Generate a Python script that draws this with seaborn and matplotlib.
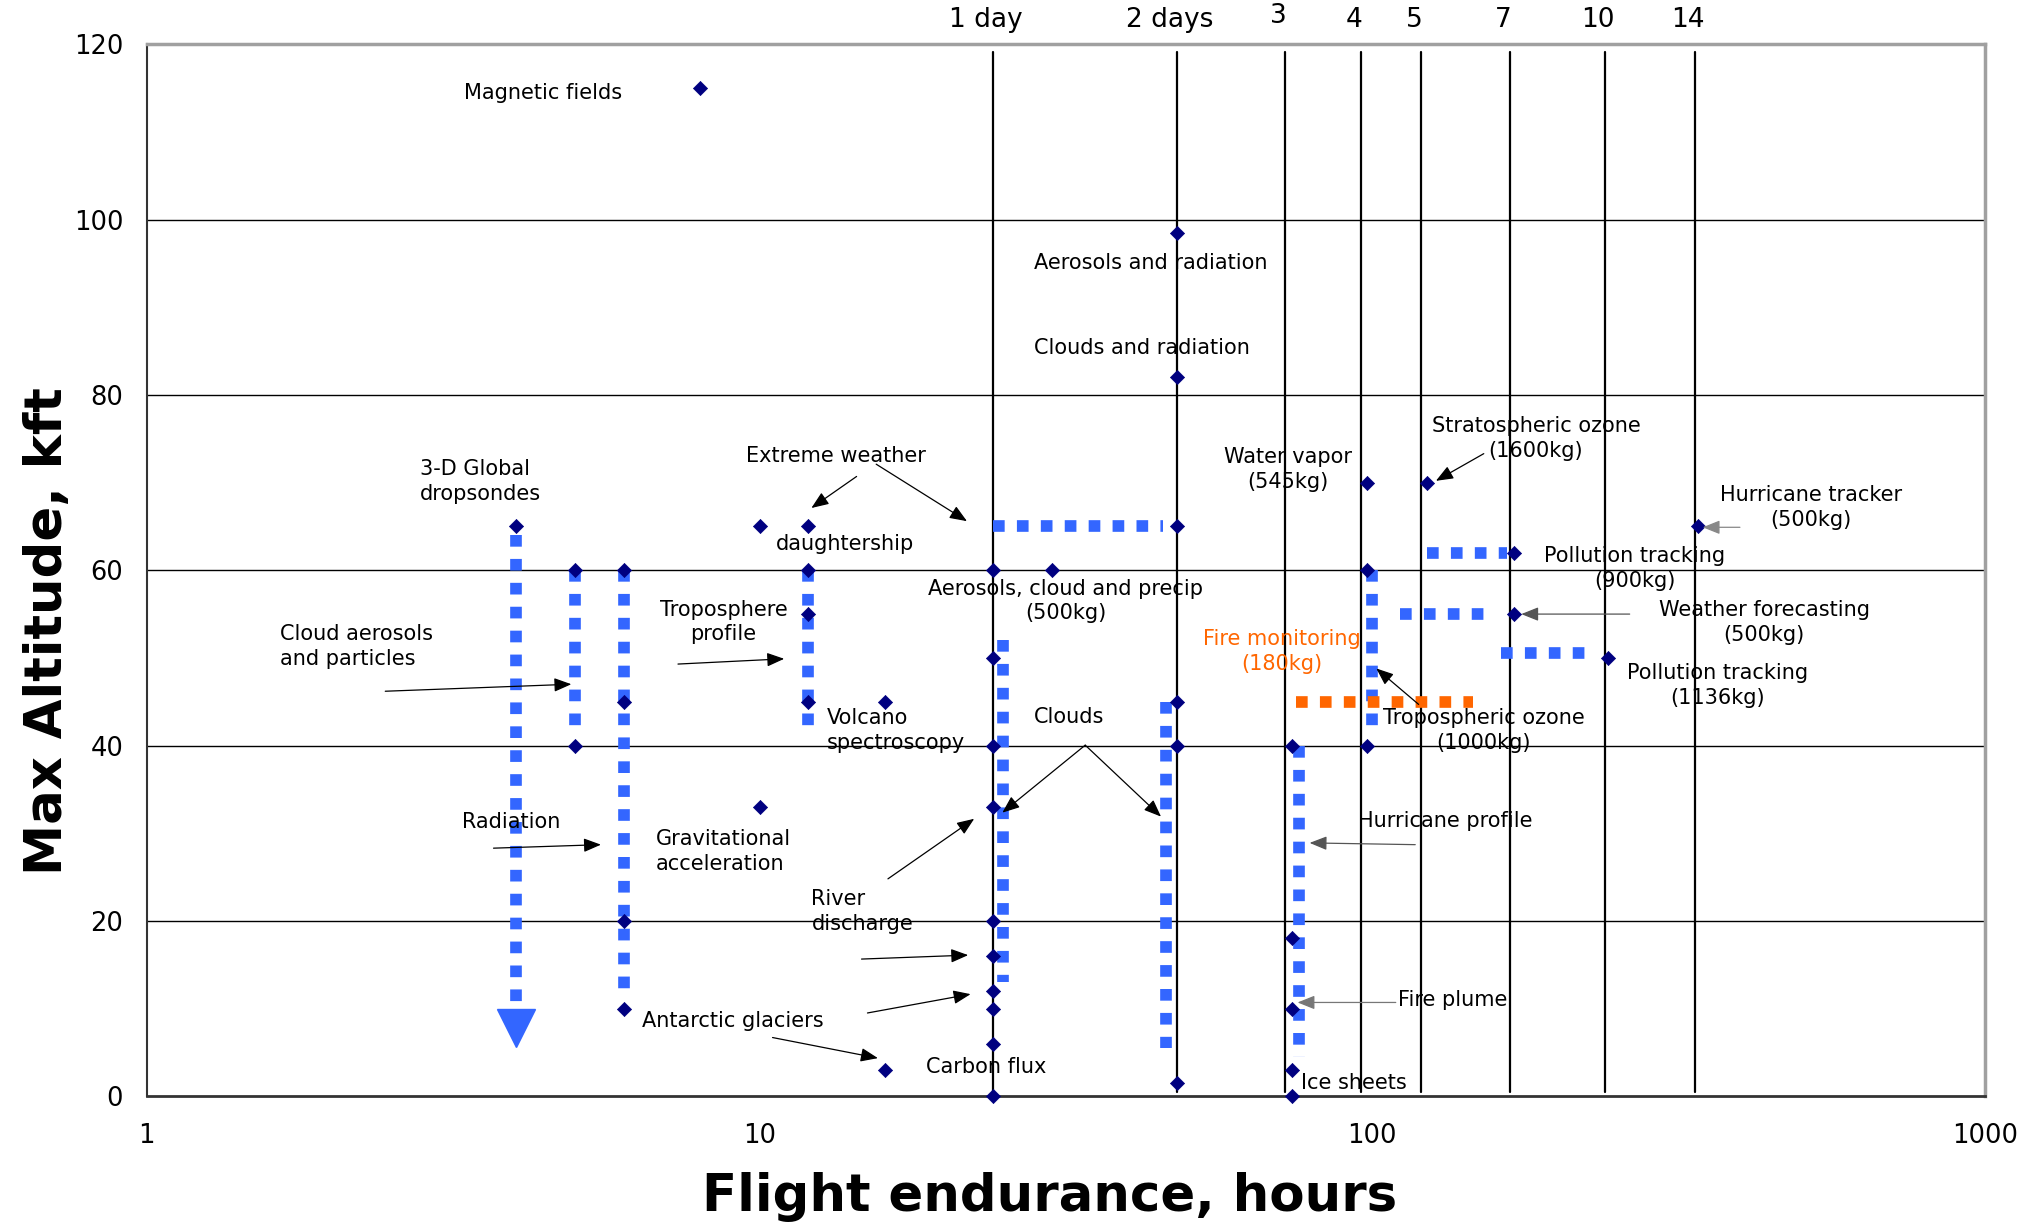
import matplotlib
matplotlib.use("Agg")
import matplotlib.pyplot as plt
import matplotlib.transforms as mtransforms
from matplotlib.ticker import FixedLocator, FixedFormatter, NullLocator
import seaborn as sns

# Instrument requirement points: flight endurance (hours) vs max altitude (kft)
point_hours = [8, 4, 5, 5, 6, 6, 6, 6, 10, 12, 12, 12, 12, 10, 16, 16,
               24, 24, 24, 24, 24, 24, 24, 24, 24, 24, 30,
               48, 48, 48, 48, 48, 48,
               74, 74, 74, 74, 74,
               98, 98, 98, 123, 170, 170, 242, 340]
point_kft = [115, 65, 60, 40, 60, 45, 20, 10, 65, 65, 60, 55, 45, 33, 45, 3,
             60, 50, 40, 33, 20, 16, 12, 10, 6, 0, 60,
             98.5, 82, 65, 45, 40, 1.5,
             40, 18, 10, 3, 0,
             70, 60, 40, 70, 62, 55, 50, 65]

# Altitude ranges covered by a mission (vertical blue bands)
vrange_hours = [4, 5, 6, 12, 25, 46, 76, 100]
vrange_top = [64, 60, 60, 60, 52, 45, 40, 60]
vrange_bottom = [10, 41, 12, 41, 13, 5.5, 4.5, 41]

# Endurance ranges covered by a mission (horizontal blue bands)
hrange_kft = [65, 62, 55, 50.6]
hrange_start = [24, 123, 111, 162]
hrange_end = [45.5, 166, 152, 222]

# Fire monitoring endurance range
fire_kft = [45, 45]
fire_hours = [75, 146]

# Dropsonde descent arrow tip
tip_hours = [4]
tip_kft = [7.8]

# Endurance reference lines
day_hours = [24, 48, 72, 96, 120, 168, 240, 336]
day_labels = ["1 day", "2 days", "3", "4", "5", "7", "10", "14"]

# Axis ticks
x_ticks = [1, 10, 100, 1000]
x_tick_labels = ["1", "10", "100", "1000"]
y_ticks = [0, 20, 40, 60, 80, 100, 120]

# Mission labels: text, x, y, horizontal alignment, colour
labels = [
    ("Magnetic fields", 3.29, 114.4, "left", "black"),
    ("3-D Global\ndropsondes", 2.79, 70.1, "left", "black"),
    ("Cloud aerosols\nand particles", 1.65, 51.3, "left", "black"),
    ("Radiation", 3.27, 31.3, "left", "black"),
    ("Troposphere\nprofile", 8.73, 54.1, "center", "black"),
    ("Extreme weather", 9.52, 73.0, "left", "black"),
    ("daughtership", 10.65, 63.0, "left", "black"),
    ("Volcano\nspectroscopy", 12.89, 41.7, "left", "black"),
    ("Gravitational\nacceleration", 6.77, 27.9, "left", "black"),
    ("Antarctic glaciers", 6.42, 8.6, "left", "black"),
    ("River\ndischarge", 12.15, 21.1, "left", "black"),
    ("Carbon flux", 18.67, 3.3, "left", "black"),
    ("Aerosols and radiation", 28.0, 95.0, "left", "black"),
    ("Clouds and radiation", 28.0, 85.3, "left", "black"),
    ("Aerosols, cloud and precip\n(500kg)", 31.6, 56.5, "center", "black"),
    ("Clouds", 28.0, 43.3, "left", "black"),
    ("Water vapor\n(545kg)", 72.8, 71.5, "center", "black"),
    ("Stratospheric ozone\n(1600kg)", 185, 75.0, "center", "black"),
    ("Hurricane tracker\n(500kg)", 520, 67.2, "center", "black"),
    ("Pollution tracking\n(900kg)", 268, 60.2, "center", "black"),
    ("Weather forecasting\n(500kg)", 436, 54.0, "center", "black"),
    ("Pollution tracking\n(1136kg)", 366, 46.9, "center", "black"),
    ("Fire monitoring\n(180kg)", 71.1, 50.7, "center", "#FF6600"),
    ("Tropospheric ozone\n(1000kg)", 152, 41.7, "center", "black"),
    ("Hurricane profile", 94.8, 31.4, "left", "black"),
    ("Fire plume", 110.3, 11.0, "left", "black"),
    ("Ice sheets", 76.5, 1.5, "left", "black"),
]

# Pointer arrows: tail (x, y) -> head (x, y), line colour
pointers = [
    ((2.45, 46.2), (4.93, 47.0), "black"),
    ((3.68, 28.3), (5.51, 28.7), "black"),
    ((7.36, 49.3), (10.97, 49.9), "black"),
    ((14.4, 70.7), (12.15, 67.1), "black"),
    ((15.5, 72.1), (21.8, 65.6), "black"),
    ((10.5, 6.7), (15.6, 4.35), "black"),
    ((16.2, 24.8), (22.4, 31.65), "black"),
    ((14.67, 15.65), (21.9, 16.1), "black"),
    ((15.0, 9.5), (22.1, 11.65), "black"),
    ((34.0, 40.05), (24.9, 32.35), "black"),
    ((34.0, 40.05), (45.2, 31.9), "black"),
    ((152, 73.3), (127, 70.2), "black"),
    ((398, 64.9), (346, 64.9), "#888888"),
    ((263, 55.0), (175, 55.0), "#555555"),
    ((119, 44.7), (101.5, 48.8), "black"),
    ((117.5, 28.7), (79, 28.9), "#555555"),
    ((109.2, 10.7), (75.5, 10.7), "#777777"),
]

BLUE = "#3366FF"
NAVY = "#000080"
ORANGE = "#FF6600"

sns.set_theme(style="white")
plt.rcParams["font.family"] = ["DejaVu Sans"]

fig = plt.figure(figsize=(20.36, 12.29), dpi=100)
ax = fig.add_axes([0.0721, 0.108, 0.9029, 0.856])

ax.set_xscale("log")
ax.set_xlim(1, 1000)
ax.set_ylim(0, 120)

# Horizontal grid
for y in y_ticks[1:-1]:
    ax.axhline(y, color="black", lw=1.0, zorder=1)

# Day reference lines and their labels above the plot
lbl_tr = mtransforms.blended_transform_factory(ax.transData, ax.transAxes)
for h, lab in zip(day_hours, day_labels):
    ax.axvline(h, ymin=0.004, ymax=0.993, color="black", lw=1.6, zorder=2)
    dy = 20 if lab == "3" else 17.5
    ax.annotate(lab, xy=(h, 1.0), xycoords=lbl_tr, xytext=(-5, dy),
                textcoords="offset points", ha="center", va="center",
                fontsize=19, color="black", annotation_clip=False)

dash = (0, (1.0, 1.05))
# Vertical altitude bands
for h, top, bot in zip(vrange_hours, vrange_top, vrange_bottom):
    ax.plot([h, h], [top, bot], color=BLUE, lw=8.4, linestyle=dash,
            dash_capstyle="butt", zorder=3)
# Horizontal endurance bands
for k, s, e in zip(hrange_kft, hrange_start, hrange_end):
    ax.plot([s, e], [k, k], color=BLUE, lw=8.4, linestyle=dash,
            dash_capstyle="butt", zorder=3)
ax.plot(fire_hours, fire_kft, color=ORANGE, lw=8.4, linestyle=dash,
        dash_capstyle="butt", zorder=3)

# Dropsonde arrow head
ax.plot(tip_hours, tip_kft, marker="v", markersize=27, color=BLUE,
        markeredgecolor=BLUE, linestyle="none", zorder=3)

# Requirement points
sns.scatterplot(x=point_hours, y=point_kft, marker="D", s=52, color=NAVY,
                edgecolor=NAVY, linewidth=0.5, ax=ax, zorder=5, clip_on=False,
                legend=False)

# Labels
for text, x, y, ha, col in labels:
    ax.text(x, y, text, ha=ha, va="center", multialignment=ha,
            fontsize=15, color=col, linespacing=1.3, zorder=6)

# Pointer arrows
for tail, head, col in pointers:
    ax.annotate("", xy=head, xytext=tail,
                arrowprops=dict(arrowstyle="-|>,head_length=0.7,head_width=0.28",
                                mutation_scale=15, color=col, lw=0.9,
                                shrinkA=0, shrinkB=0),
                zorder=6)

# Axes styling
ax.xaxis.set_major_locator(FixedLocator(x_ticks))
ax.xaxis.set_major_formatter(FixedFormatter(x_tick_labels))
ax.xaxis.set_minor_locator(NullLocator())
ax.set_yticks(y_ticks)
ax.tick_params(axis="both", which="major", direction="out", length=7,
               width=1.3, color="#333333", labelsize=18.5, labelcolor="black")
ax.tick_params(axis="y", pad=10)
ax.tick_params(axis="x", pad=12)

for side in ("top", "right"):
    ax.spines[side].set_color("#A0A0A0")
    ax.spines[side].set_linewidth(2.5)
ax.spines["left"].set_color("#333333")
ax.spines["left"].set_linewidth(1.5)
ax.spines["bottom"].set_color("#333333")
ax.spines["bottom"].set_linewidth(2.0)
ax.grid(False)

ax.set_xlabel("Flight endurance, hours", fontsize=37, fontweight="bold",
              color="black")
ax.xaxis.set_label_coords(0.491, -0.072)
ax.set_ylabel("Max Altitude, kft", fontsize=37, fontweight="bold",
              color="black")
ax.yaxis.set_label_coords(-0.04, 0.442)

fig.savefig("out.png", dpi=100, facecolor="white")
